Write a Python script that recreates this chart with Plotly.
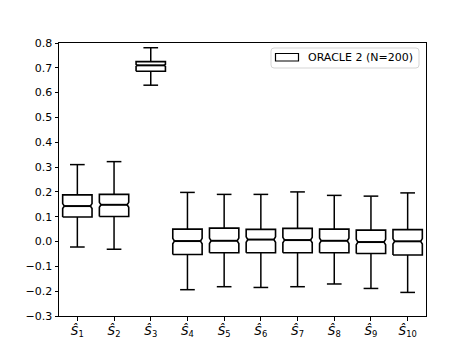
import plotly.graph_objects as go

categories = ["S1", "S2", "S3", "S4", "S5", "S6", "S7", "S8", "S9", "S10"]
tick_labels = ["<i>Ŝ</i><sub>%d</sub>" % i for i in range(1, 11)]
positions = list(range(1, 11))
series_name = "ORACLE 2 (N=200)"

lower_whisker = [-0.022, -0.031, 0.630, -0.194, -0.182, -0.185, -0.182, -0.171, -0.189, -0.205]
q1 = [0.099, 0.101, 0.686, -0.052, -0.045, -0.045, -0.045, -0.045, -0.048, -0.054]
median = [0.143, 0.148, 0.710, 0.002, 0.003, 0.008, 0.006, 0.003, -0.002, 0.001]
q3 = [0.188, 0.190, 0.725, 0.050, 0.054, 0.049, 0.053, 0.050, 0.046, 0.048]
upper_whisker = [0.310, 0.322, 0.781, 0.198, 0.190, 0.190, 0.200, 0.186, 0.183, 0.196]
notch_half = [0.010, 0.010, 0.004, 0.011, 0.011, 0.011, 0.011, 0.011, 0.011, 0.011]

BOX_W = 0.8
CAP_W = 0.4
NOTCH_INDENT = 0.045

bx, by = [], []
wx, wy = [], []
mx, my = [], []
for p, lo, a, m, b, hi, n in zip(positions, lower_whisker, q1, median, q3, upper_whisker, notch_half):
    L, R = p - BOX_W / 2, p + BOX_W / 2
    bx += [L, R, R, R - NOTCH_INDENT, R, R, L, L, L + NOTCH_INDENT, L, L, None]
    by += [a, a, m - n, m, m + n, b, b, m + n, m, m - n, a, None]
    cl, cr = p - CAP_W / 2, p + CAP_W / 2
    wx += [p, p, None, cl, cr, None, p, p, None, cl, cr, None]
    wy += [a, lo, None, lo, lo, None, b, hi, None, hi, hi, None]
    mx += [L + NOTCH_INDENT, R - NOTCH_INDENT, None]
    my += [m, m, None]

fig = go.Figure()
fig.add_trace(go.Scatter(x=wx, y=wy, mode="lines", line=dict(color="black", width=1.5),
                         showlegend=False, hoverinfo="skip"))
fig.add_trace(go.Scatter(x=bx, y=by, mode="lines", fill="toself", fillcolor="white",
                         line=dict(color="black", width=1.6), name=series_name,
                         showlegend=False, hoverinfo="skip"))
fig.add_trace(go.Scatter(x=mx, y=my, mode="lines", line=dict(color="black", width=2),
                         showlegend=False, hoverinfo="skip"))

# legend drawn in paper coordinates (matplotlib style: wide patch, rounded light frame)
PW, PH = 367.0, 273.0
def px(v):
    return v / PW
def py(v):
    return v / PH
lx0, lx1 = px(212), px(360)
ly0, ly1 = 1 - py(25), 1 - py(5)
rx, ry = px(3), py(3)
frame = (f"M{lx0+rx},{ly1} L{lx1-rx},{ly1} Q{lx1},{ly1} {lx1},{ly1-ry} "
         f"L{lx1},{ly0+ry} Q{lx1},{ly0} {lx1-rx},{ly0} L{lx0+rx},{ly0} "
         f"Q{lx0},{ly0} {lx0},{ly0+ry} L{lx0},{ly1-ry} Q{lx0},{ly1} {lx0+rx},{ly1} Z")

axis_common = dict(
    showline=True, linecolor="black", linewidth=1, mirror=True,
    ticks="outside", ticklen=3.5, tickwidth=1, tickcolor="black",
    showgrid=False, zeroline=False,
)

fig.update_layout(
    width=473, height=355,
    margin=dict(l=59, r=47, t=43, b=39),
    paper_bgcolor="white", plot_bgcolor="white",
    showlegend=False,
    shapes=[
        dict(type="path", xref="paper", yref="paper", path=frame,
             line=dict(color="#d5d5d5", width=1), fillcolor="rgba(255,255,255,0.8)"),
        dict(type="rect", xref="paper", yref="paper",
             x0=px(216.5), x1=px(239.5), y0=1 - py(18), y1=1 - py(10.5),
             line=dict(color="black", width=1.2), fillcolor="white"),
    ],
    annotations=[
        dict(text=series_name, xref="paper", yref="paper", x=px(247), y=1 - py(14.5),
             xanchor="left", yanchor="middle", showarrow=False,
             font=dict(family="DejaVu Sans", size=11, color="black")),
    ],
    xaxis=dict(range=[0.5, 10.5], tickvals=positions, ticktext=tick_labels,
               tickfont=dict(family="DejaVu Sans", size=12, color="black"), **axis_common),
    yaxis=dict(range=[-0.3, 0.8], tickvals=[-0.3, -0.2, -0.1, 0.0, 0.1, 0.2, 0.3, 0.4, 0.5, 0.6, 0.7, 0.8],
               tickformat=".1f", tickfont=dict(family="DejaVu Sans", size=11, color="black"),
               **axis_common),
)

fig.write_html("out.html", config={"displayModeBar": False},
               post_script="document.body.style.margin='0';")
